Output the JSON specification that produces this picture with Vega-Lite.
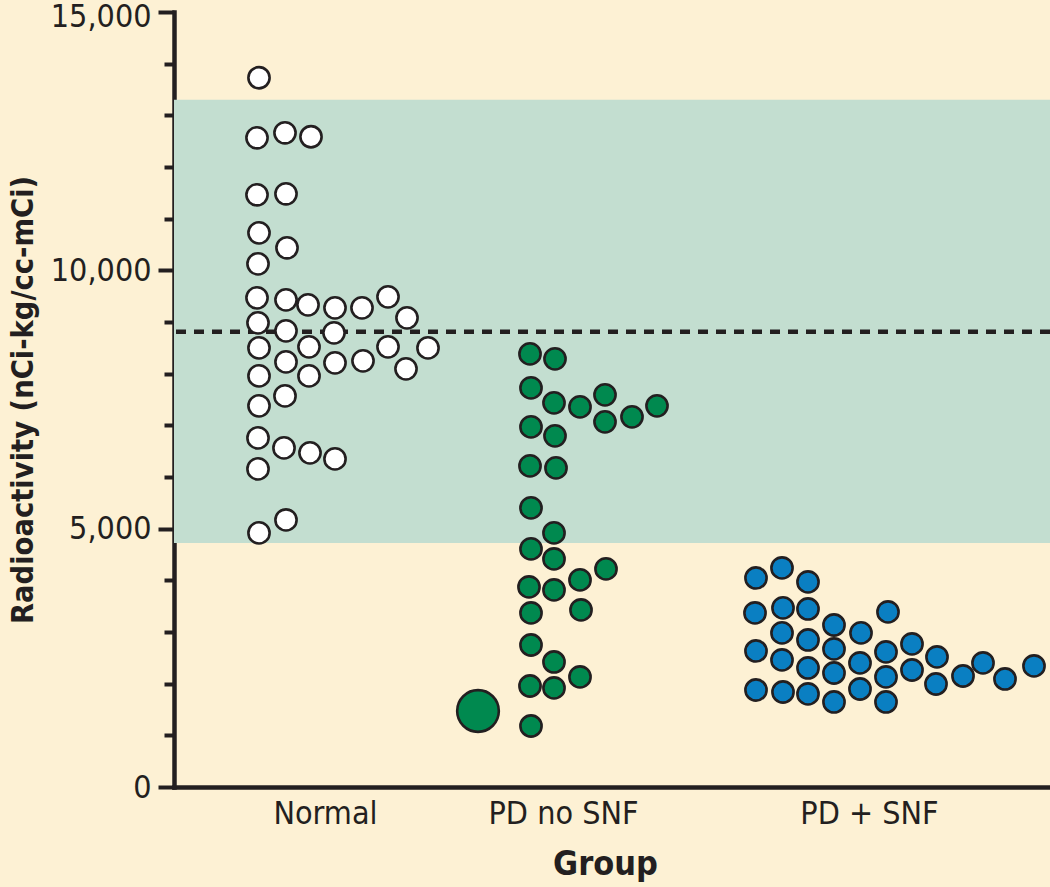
{
  "$schema": "https://vega.github.io/schema/vega-lite/v6.json",
  "width": 876,
  "height": 775,
  "autosize": "none",
  "padding": {"left": 174, "top": 12, "right": 0, "bottom": 100},
  "background": "#fdf1d4",
  "config": {
    "view": {"stroke": null},
    "font": "Liberation Sans Narrow, DejaVu Sans Condensed, sans-serif"
  },
  "datasets": {
    "band": [{"low": 4724, "high": 13301}],
    "reference": [{"value": 8809}],
    "points": [
      {"group": "Normal", "kind": "subject", "pos": 85, "value": 13727},
      {"group": "Normal", "kind": "subject", "pos": 83, "value": 12565},
      {"group": "Normal", "kind": "subject", "pos": 111, "value": 12662},
      {"group": "Normal", "kind": "subject", "pos": 137, "value": 12585},
      {"group": "Normal", "kind": "subject", "pos": 83, "value": 11462},
      {"group": "Normal", "kind": "subject", "pos": 112, "value": 11481},
      {"group": "Normal", "kind": "subject", "pos": 85, "value": 10726},
      {"group": "Normal", "kind": "subject", "pos": 113, "value": 10436},
      {"group": "Normal", "kind": "subject", "pos": 84, "value": 10126},
      {"group": "Normal", "kind": "subject", "pos": 83, "value": 9468},
      {"group": "Normal", "kind": "subject", "pos": 112, "value": 9429},
      {"group": "Normal", "kind": "subject", "pos": 134, "value": 9332},
      {"group": "Normal", "kind": "subject", "pos": 161, "value": 9274},
      {"group": "Normal", "kind": "subject", "pos": 188, "value": 9274},
      {"group": "Normal", "kind": "subject", "pos": 214, "value": 9487},
      {"group": "Normal", "kind": "subject", "pos": 233, "value": 9080},
      {"group": "Normal", "kind": "subject", "pos": 84, "value": 8984},
      {"group": "Normal", "kind": "subject", "pos": 112, "value": 8829},
      {"group": "Normal", "kind": "subject", "pos": 160, "value": 8790},
      {"group": "Normal", "kind": "subject", "pos": 85, "value": 8499},
      {"group": "Normal", "kind": "subject", "pos": 135, "value": 8519},
      {"group": "Normal", "kind": "subject", "pos": 214, "value": 8519},
      {"group": "Normal", "kind": "subject", "pos": 254, "value": 8499},
      {"group": "Normal", "kind": "subject", "pos": 112, "value": 8228},
      {"group": "Normal", "kind": "subject", "pos": 161, "value": 8209},
      {"group": "Normal", "kind": "subject", "pos": 189, "value": 8248},
      {"group": "Normal", "kind": "subject", "pos": 232, "value": 8093},
      {"group": "Normal", "kind": "subject", "pos": 85, "value": 7957},
      {"group": "Normal", "kind": "subject", "pos": 135, "value": 7957},
      {"group": "Normal", "kind": "subject", "pos": 111, "value": 7570},
      {"group": "Normal", "kind": "subject", "pos": 85, "value": 7377},
      {"group": "Normal", "kind": "subject", "pos": 84, "value": 6757},
      {"group": "Normal", "kind": "subject", "pos": 110, "value": 6563},
      {"group": "Normal", "kind": "subject", "pos": 136, "value": 6467},
      {"group": "Normal", "kind": "subject", "pos": 161, "value": 6350},
      {"group": "Normal", "kind": "subject", "pos": 84, "value": 6157},
      {"group": "Normal", "kind": "subject", "pos": 112, "value": 5169},
      {"group": "Normal", "kind": "subject", "pos": 85, "value": 4918},
      {"group": "PD no SNF", "kind": "subject", "pos": 356, "value": 8383},
      {"group": "PD no SNF", "kind": "subject", "pos": 381, "value": 8287},
      {"group": "PD no SNF", "kind": "subject", "pos": 357, "value": 7725},
      {"group": "PD no SNF", "kind": "subject", "pos": 380, "value": 7435},
      {"group": "PD no SNF", "kind": "subject", "pos": 406, "value": 7357},
      {"group": "PD no SNF", "kind": "subject", "pos": 431, "value": 7590},
      {"group": "PD no SNF", "kind": "subject", "pos": 431, "value": 7067},
      {"group": "PD no SNF", "kind": "subject", "pos": 458, "value": 7164},
      {"group": "PD no SNF", "kind": "subject", "pos": 483, "value": 7377},
      {"group": "PD no SNF", "kind": "subject", "pos": 357, "value": 6970},
      {"group": "PD no SNF", "kind": "subject", "pos": 381, "value": 6796},
      {"group": "PD no SNF", "kind": "subject", "pos": 356, "value": 6215},
      {"group": "PD no SNF", "kind": "subject", "pos": 382, "value": 6176},
      {"group": "PD no SNF", "kind": "subject", "pos": 357, "value": 5402},
      {"group": "PD no SNF", "kind": "subject", "pos": 380, "value": 4918},
      {"group": "PD no SNF", "kind": "subject", "pos": 357, "value": 4608},
      {"group": "PD no SNF", "kind": "subject", "pos": 380, "value": 4414},
      {"group": "PD no SNF", "kind": "subject", "pos": 355, "value": 3872},
      {"group": "PD no SNF", "kind": "subject", "pos": 380, "value": 3814},
      {"group": "PD no SNF", "kind": "subject", "pos": 406, "value": 4008},
      {"group": "PD no SNF", "kind": "subject", "pos": 432, "value": 4221},
      {"group": "PD no SNF", "kind": "subject", "pos": 357, "value": 3369},
      {"group": "PD no SNF", "kind": "subject", "pos": 407, "value": 3427},
      {"group": "PD no SNF", "kind": "subject", "pos": 357, "value": 2749},
      {"group": "PD no SNF", "kind": "subject", "pos": 380, "value": 2420},
      {"group": "PD no SNF", "kind": "subject", "pos": 356, "value": 1955},
      {"group": "PD no SNF", "kind": "subject", "pos": 380, "value": 1917},
      {"group": "PD no SNF", "kind": "subject", "pos": 406, "value": 2130},
      {"group": "PD no SNF", "kind": "subject", "pos": 357, "value": 1181},
      {"group": "PD no SNF", "kind": "summary", "pos": 304, "value": 1471},
      {"group": "PD + SNF", "kind": "subject", "pos": 582, "value": 4046},
      {"group": "PD + SNF", "kind": "subject", "pos": 608, "value": 4240},
      {"group": "PD + SNF", "kind": "subject", "pos": 634, "value": 3969},
      {"group": "PD + SNF", "kind": "subject", "pos": 581, "value": 3369},
      {"group": "PD + SNF", "kind": "subject", "pos": 609, "value": 3466},
      {"group": "PD + SNF", "kind": "subject", "pos": 634, "value": 3446},
      {"group": "PD + SNF", "kind": "subject", "pos": 714, "value": 3388},
      {"group": "PD + SNF", "kind": "subject", "pos": 608, "value": 2982},
      {"group": "PD + SNF", "kind": "subject", "pos": 634, "value": 2846},
      {"group": "PD + SNF", "kind": "subject", "pos": 660, "value": 3136},
      {"group": "PD + SNF", "kind": "subject", "pos": 687, "value": 2982},
      {"group": "PD + SNF", "kind": "subject", "pos": 582, "value": 2633},
      {"group": "PD + SNF", "kind": "subject", "pos": 608, "value": 2459},
      {"group": "PD + SNF", "kind": "subject", "pos": 660, "value": 2672},
      {"group": "PD + SNF", "kind": "subject", "pos": 712, "value": 2614},
      {"group": "PD + SNF", "kind": "subject", "pos": 738, "value": 2769},
      {"group": "PD + SNF", "kind": "subject", "pos": 763, "value": 2517},
      {"group": "PD + SNF", "kind": "subject", "pos": 634, "value": 2304},
      {"group": "PD + SNF", "kind": "subject", "pos": 660, "value": 2207},
      {"group": "PD + SNF", "kind": "subject", "pos": 686, "value": 2401},
      {"group": "PD + SNF", "kind": "subject", "pos": 712, "value": 2130},
      {"group": "PD + SNF", "kind": "subject", "pos": 738, "value": 2265},
      {"group": "PD + SNF", "kind": "subject", "pos": 809, "value": 2401},
      {"group": "PD + SNF", "kind": "subject", "pos": 860, "value": 2343},
      {"group": "PD + SNF", "kind": "subject", "pos": 582, "value": 1878},
      {"group": "PD + SNF", "kind": "subject", "pos": 609, "value": 1839},
      {"group": "PD + SNF", "kind": "subject", "pos": 634, "value": 1801},
      {"group": "PD + SNF", "kind": "subject", "pos": 660, "value": 1646},
      {"group": "PD + SNF", "kind": "subject", "pos": 686, "value": 1897},
      {"group": "PD + SNF", "kind": "subject", "pos": 712, "value": 1646},
      {"group": "PD + SNF", "kind": "subject", "pos": 762, "value": 1994},
      {"group": "PD + SNF", "kind": "subject", "pos": 789, "value": 2149},
      {"group": "PD + SNF", "kind": "subject", "pos": 831, "value": 2091}
    ]
  },
  "layer": [
    {
      "data": {"name": "band"},
      "mark": {"type": "rect", "color": "#c3ded0"},
      "encoding": {
        "y": {"field": "low", "type": "quantitative", "title": "Radioactivity (nCi-kg/cc-mCi)", "scale": {"domain": [0, 15000], "nice": false}},
        "y2": {"field": "high"}
      }
    },
    {
      "data": {"name": "reference"},
      "mark": {"type": "rule", "color": "#231f20", "strokeWidth": 4.5, "strokeDash": [10, 8]},
      "encoding": {
        "y": {"field": "value", "type": "quantitative", "title": "Radioactivity (nCi-kg/cc-mCi)"}
      }
    },
    {
      "data": {"name": "points"},
      "mark": {"type": "point", "filled": true, "opacity": 1, "stroke": "#231f20", "strokeWidth": 2.6},
      "encoding": {
        "x": {
          "field": "pos", "type": "quantitative", "title": "Group",
          "scale": {"domain": [0, 876], "nice": false, "zero": false},
          "axis": {
            "values": [151, 389, 695],
            "labelExpr": "datum.value == 151 ? 'Normal' : datum.value == 389 ? 'PD no SNF' : 'PD + SNF'",
            "ticks": false, "grid": false, "labelFlush": false, "labelOverlap": false,
            "domainColor": "#231f20", "domainWidth": 4.5, "domainCap": "square",
            "labelFontSize": 32, "labelColor": "#231f20", "labelPadding": 11,
            "titleFontSize": 34, "titleFontWeight": "bold", "titleColor": "#231f20", "titlePadding": 18,
            "titleX": 431
          }
        },
        "y": {
          "field": "value", "type": "quantitative", "title": "Radioactivity (nCi-kg/cc-mCi)",
          "scale": {"domain": [0, 15000], "nice": false},
          "axis": {
            "values": [0, 1000, 2000, 3000, 4000, 5000, 6000, 7000, 8000, 9000, 10000, 11000, 12000, 13000, 14000, 15000],
            "labelExpr": "datum.value % 5000 === 0 ? format(datum.value, ',') : ''",
            "labelOffset": {"condition": {"test": "datum.value === 15000", "value": 4}, "value": 0},
            "tickSize": {"condition": {"test": "datum.value % 5000 === 0", "value": 16}, "value": 10},
            "tickWidth": 4, "tickColor": "#231f20",
            "grid": false, "labelOverlap": false, "labelBound": false, "labelFlush": false,
            "domainColor": "#231f20", "domainWidth": 4.5, "domainCap": "square",
            "labelFontSize": 32, "labelColor": "#231f20", "labelPadding": 7,
            "titleFontSize": 30.5, "titleFontWeight": "bold", "titleColor": "#231f20", "titlePadding": 12
          }
        },
        "fill": {
          "field": "group", "type": "nominal", "legend": null,
          "scale": {"domain": ["Normal", "PD no SNF", "PD + SNF"], "range": ["#ffffff", "#00894f", "#0a7fc2"]}
        },
        "size": {
          "field": "kind", "type": "ordinal", "legend": null,
          "scale": {"domain": ["subject", "summary"], "range": [450, 1735]}
        }
      }
    }
  ]
}
